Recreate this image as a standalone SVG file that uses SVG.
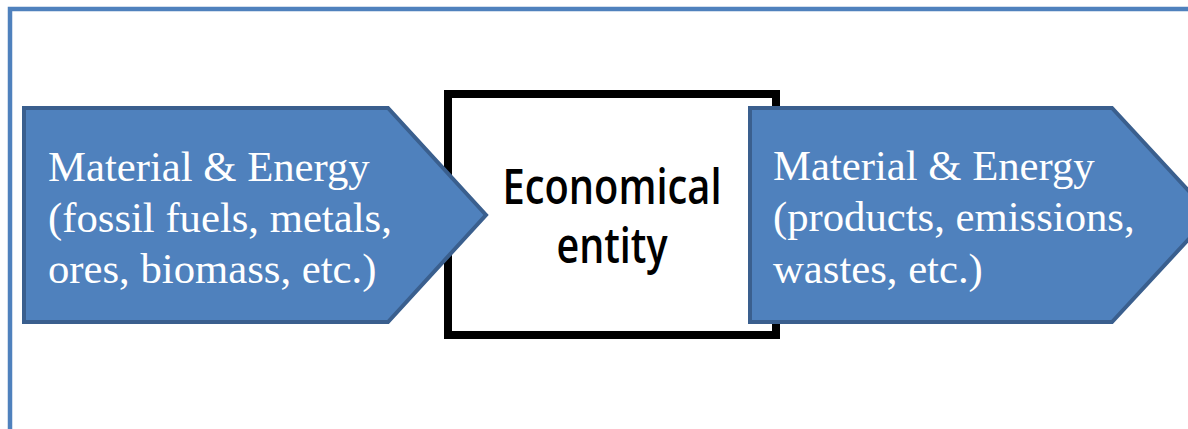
<svg xmlns="http://www.w3.org/2000/svg" width="1188" height="429" viewBox="0 0 1188 429">
  <style>
    .frame { fill: none; stroke: #4F81BD; stroke-width: 4.5; }
    .flow { fill: #4F81BD; stroke: #3A5F8E; stroke-width: 4; stroke-linejoin: miter; }
    .flow-label { font-family: "Liberation Serif", "Times New Roman", serif; font-size: 42.7px; fill: #FFFFFF; }
    .entity-box { fill: #FFFFFF; stroke: #000000; stroke-width: 8; }
    .entity-label { font-family: "Open Sans", "Liberation Sans", sans-serif; font-size: 49px; font-weight: 600; fill: #000000; text-anchor: middle; }
  </style>

  <rect width="1188" height="429" fill="#FFFFFF"/>

  <!-- page frame (left and top edges only) -->
  <path class="frame" d="M10,429 V9 H1188"/>

  <!-- central process box -->
  <g id="economical-entity">
    <rect class="entity-box" x="448" y="94" width="328" height="241"/>
    <text class="entity-label" x="612" y="204" textLength="219" lengthAdjust="spacingAndGlyphs">Economical</text>
    <text class="entity-label" x="612" y="263" textLength="111" lengthAdjust="spacingAndGlyphs">entity</text>
  </g>

  <g id="connectors">
    <!-- input flow -->
    <g id="input-flow">
      <path class="flow" d="M24,108 H388 L486,215 L388,322 H24 Z"/>
      <text class="flow-label" x="48" y="181">Material &amp; Energy</text>
      <text class="flow-label" x="48" y="232">(fossil fuels, metals,</text>
      <text class="flow-label" x="48" y="283">ores, biomass, etc.)</text>
    </g>

    <!-- output flow -->
    <g id="output-flow">
      <path class="flow" d="M750,108 H1112 L1211,215 L1112,322 H750 Z"/>
      <text class="flow-label" x="773" y="180">Material &amp; Energy</text>
      <text class="flow-label" x="773" y="231">(products, emissions,</text>
      <text class="flow-label" x="773" y="283">wastes, etc.)</text>
    </g>
  </g>
</svg>
